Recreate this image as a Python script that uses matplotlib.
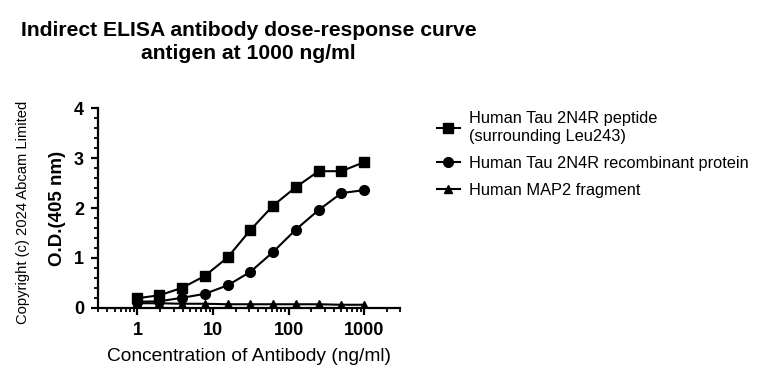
import numpy as np
import matplotlib.pyplot as plt
from matplotlib.ticker import LogLocator, MultipleLocator, FixedLocator

plt.rcParams['font.family'] = ['Liberation Sans', 'DejaVu Sans']

# Antibody concentrations (ng/ml), 2-fold dilutions from 1000
conc = [0.977, 1.953, 3.906, 7.8125, 15.625, 31.25, 62.5, 125, 250, 500, 1000]

# O.D. readings (405 nm)
tau_peptide = [0.19, 0.25, 0.40, 0.64, 1.01, 1.56, 2.05, 2.42, 2.74, 2.74, 2.92]
tau_recombinant = [0.12, 0.13, 0.20, 0.28, 0.45, 0.72, 1.12, 1.57, 1.96, 2.30, 2.36]
map2_fragment = [0.09, 0.09, 0.08, 0.08, 0.07, 0.07, 0.07, 0.07, 0.07, 0.06, 0.06]

labels = ["Human Tau 2N4R peptide\n(surrounding Leu243)",
          "Human Tau 2N4R recombinant protein",
          "Human MAP2 fragment"]

fig = plt.figure(figsize=(7.62, 3.79), dpi=100)
ax = fig.add_axes([0.1286, 0.188, 0.3965, 0.526])

ax.plot(conc, tau_peptide, color='black', lw=1.5, marker='s', ms=7, label=labels[0])
ax.plot(conc, tau_recombinant, color='black', lw=1.5, marker='o', ms=7, label=labels[1])
ax.plot(conc, map2_fragment, color='black', lw=1.5, marker='^', ms=6, label=labels[2])

ax.set_xscale('log')
ax.set_xlim(0.3, 3000)
ax.set_ylim(0, 4)

for side in ['top', 'right']:
    ax.spines[side].set_visible(False)
for side in ['left', 'bottom']:
    ax.spines[side].set_linewidth(1.6)

ax.xaxis.set_major_locator(FixedLocator([1, 10, 100, 1000]))
ax.xaxis.set_minor_locator(LogLocator(base=10, subs=np.arange(2, 10)))
ax.set_xticklabels(['1', '10', '100', '1000'])
ax.yaxis.set_major_locator(MultipleLocator(1))
ax.yaxis.set_minor_locator(MultipleLocator(0.2))

ax.tick_params(axis='both', which='major', length=5, width=1.6, labelsize=13, pad=5)
ax.tick_params(axis='both', which='minor', length=3, width=1.3)
for lbl in ax.get_xticklabels() + ax.get_yticklabels():
    lbl.set_fontweight('bold')

ax.set_xlabel("Concentration of Antibody (ng/ml)", fontsize=13.8, labelpad=7)
ax.set_ylabel("O.D.(405 nm)", fontsize=13.5, fontweight='bold', labelpad=6)

fig.text(0.326, 0.945, "Indirect ELISA antibody dose-response curve\nantigen at 1000 ng/ml",
         ha='center', va='top', fontsize=15.2, fontweight='bold', linespacing=1.3)

fig.text(0.03, 0.44, "Copyright (c) 2024 Abcam Limited", rotation=90,
         ha='center', va='center', fontsize=10.6)

ax.legend(loc='upper left', bbox_to_anchor=(1.072, 1.06), frameon=False,
          fontsize=11.8, handlelength=1.4, handletextpad=0.6, labelspacing=0.75)

fig.savefig('out.png', dpi=100)
